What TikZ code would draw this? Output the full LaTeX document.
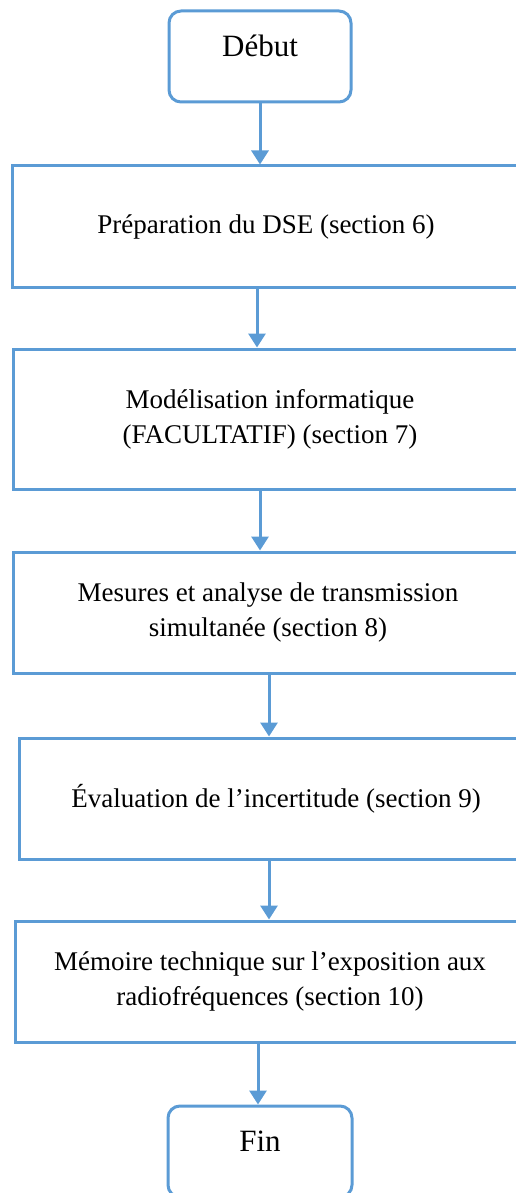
\documentclass[tikz,border=0pt]{standalone}
\usepackage{fontspec}
\setmainfont{Liberation Serif}
\usetikzlibrary{arrows.meta}
\definecolor{flowblue}{HTML}{5B9BD5}
\begin{document}
\begin{tikzpicture}[
  term/.style={rectangle, rounded corners=12pt, draw=flowblue, line width=3pt, minimum width=182pt, minimum height=91pt, text height=20pt, text depth=20pt, font=\fontsize{31}{36}\selectfont},
  box/.style={rectangle, draw=flowblue, line width=3pt, minimum height=121pt, align=center, font=\fontsize{27}{35}\selectfont},
  arrow/.style={draw=flowblue, line width=3pt, -{Triangle[width=17pt,length=14pt]}}
]
\useasboundingbox (0,0) rectangle (515pt,-1193pt);
\node[term] (debut) at (260pt,-56.5pt) {Début};
\node[box, minimum width=508pt] (prep) at (266pt,-226.5pt) {Préparation du DSE (section 6)};
\node[box, minimum width=514pt, minimum height=140pt] (model) at (270pt,-419pt) {Modélisation informatique\\(FACULTATIF) (section 7)};
\node[box, minimum width=510pt] (mesure) at (268pt,-612.5pt) {Mesures et analyse de transmission\\simultanée (section 8)};
\node[box, minimum width=514pt] (incert) at (276pt,-798.5pt) {Évaluation de l’incertitude (section 9)};
\node[box, minimum width=510pt] (memoire) at (270pt,-981.5pt) {Mémoire technique sur l’exposition aux\\radiofréquences (section 10)};
\node[term, minimum width=184pt] (fin) at (260pt,-1151.5pt) {Fin};
\draw[arrow] (debut.south) -- (debut.south |- prep.north);
\draw[arrow] ([xshift=-9pt]prep.south) -- ([xshift=-9pt]prep.south |- model.north);
\draw[arrow] ([xshift=-10pt]model.south) -- ([xshift=-10pt]model.south |- mesure.north);
\draw[arrow] ([xshift=1pt]mesure.south) -- ([xshift=1pt]mesure.south |- incert.north);
\draw[arrow] ([xshift=-7pt]incert.south) -- ([xshift=-7pt]incert.south |- memoire.north);
\draw[arrow] ([xshift=-12pt]memoire.south) -- ([xshift=-12pt]memoire.south |- fin.north);
\end{tikzpicture}
\end{document}
